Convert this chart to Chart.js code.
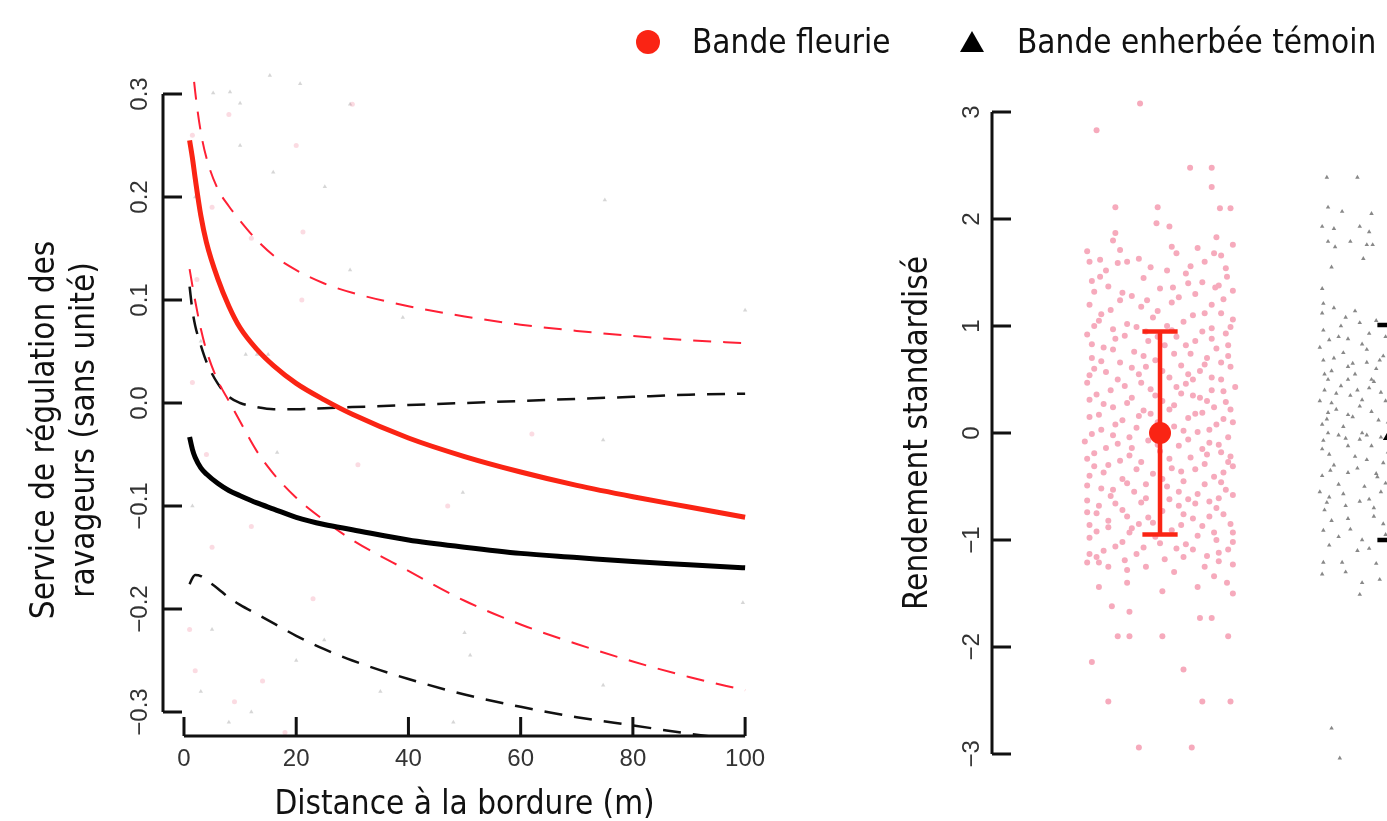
<!DOCTYPE html>
<html>
<head>
<meta charset="utf-8">
<script src="https://cdn.jsdelivr.net/npm/chart.js@4.4.1/dist/chart.umd.min.js"></script>
<style>
  html, body { margin: 0; padding: 0; background: #fff; overflow: hidden; width: 1387px; height: 821px; }
  #gauche { position: absolute; left: 0; top: 0; }
  #droite { position: absolute; left: 870px; top: 0; }
  .leg { position: absolute; top: 20px; font: 33px "Liberation Sans Narrow", "DejaVu Sans Condensed", sans-serif; color: #111; white-space: nowrap; line-height: 44px; }
  .rond { position: absolute; left: 636px; top: 30px; width: 24px; height: 24px; border-radius: 50%; background: #fa2414; }
  .tri { position: absolute; left: 960px; top: 31px; width: 0; height: 0; border-left: 12px solid transparent; border-right: 12px solid transparent; border-bottom: 21px solid #000; }
</style>
</head>
<body>
<canvas id="gauche" width="870" height="821"></canvas>
<canvas id="droite" width="680" height="821"></canvas>
<div class="rond"></div><div class="leg" style="left:692px">Bande fleurie</div>
<div class="tri"></div><div class="leg" style="left:1017px">Bande enherbée témoin</div>
<script>
// ---- panneau gauche : service de régulation selon la distance ----
const distances = [1, 1.5, 2, 3, 4, 6, 8, 10, 13, 16, 20, 25, 30, 40, 50, 60, 70, 80, 90, 100];
const fitFleurie   = [0.255, 0.238, 0.218, 0.182, 0.156, 0.121, 0.094, 0.073, 0.052, 0.036, 0.019, 0.003, -0.011, -0.034, -0.052, -0.067, -0.080, -0.091, -0.101, -0.111];
const upperFleurie = [0.370, 0.330, 0.302, 0.263, 0.238, 0.208, 0.191, 0.177, 0.158, 0.143, 0.129, 0.116, 0.107, 0.094, 0.084, 0.076, 0.070, 0.065, 0.061, 0.058];
const lowerFleurie = [0.130, 0.114, 0.099, 0.072, 0.051, 0.022, 0.002, -0.018, -0.047, -0.069, -0.092, -0.114, -0.133, -0.163, -0.192, -0.215, -0.234, -0.251, -0.266, -0.279];
const fitTemoin    = [-0.033, -0.045, -0.053, -0.063, -0.069, -0.078, -0.085, -0.090, -0.097, -0.103, -0.111, -0.118, -0.123, -0.133, -0.140, -0.146, -0.150, -0.154, -0.157, -0.160];
const upperTemoin  = [0.113, 0.090, 0.075, 0.056, 0.040, 0.019, 0.006, 0.000, -0.004, -0.006, -0.006, -0.005, -0.004, -0.002, 0.000, 0.002, 0.004, 0.006, 0.008, 0.009];
const lowerTemoin  = [-0.176, -0.170, -0.167, -0.168, -0.172, -0.180, -0.189, -0.196, -0.205, -0.214, -0.226, -0.239, -0.250, -0.268, -0.283, -0.295, -0.305, -0.313, -0.321, -0.328];

// observations (très pâles dans l'original)
const obsFleurieGauche = [[21.2, 0.166], [5, 0.19], [2.3, 0.12], [21, 0.10], [12, 0.16], [8, 0.28], [20, 0.25], [30, 0.29], [1.5, 0.26], [2, -0.26], [1, -0.22], [5, -0.14], [9, -0.29], [14, -0.27], [23, -0.19], [31, -0.06], [47, -0.10], [62, -0.03], [1.5, 0.02], [4, -0.05], [12, -0.12], [18, -0.32]];
const obsTemoinGauche = [[5.2, 0.301], [8.2, 0.302], [10, 0.291], [15.3, 0.318], [20.7, 0.31], [29.6, 0.29], [15.9, 0.224], [10, 0.25], [25.1, 0.21], [29.6, 0.129], [39, 0.083], [11, 0.047], [13, 0.047], [15, 0.047], [16.6, -0.048], [49.7, -0.087], [74.7, -0.036], [50, -0.223], [51, -0.245], [74.7, -0.274], [99.6, -0.194], [75, 0.197], [100, 0.09], [2, 0.2], [3, 0.06], [1.5, -0.1], [5, -0.22], [8, -0.31], [12, -0.30], [25, -0.23], [35, -0.28], [20, -0.25], [48, -0.31], [3, -0.28]];

const xTicksGauche = [0, 20, 40, 60, 80, 100];
const yTicksGauche = [-0.3, -0.2, -0.1, 0.0, 0.1, 0.2, 0.3];
const yLabelsGauche = ['\u22120.3', '\u22120.2', '\u22120.1', '0.0', '0.1', '0.2', '0.3'];

// ---- panneau droit : rendement standardisé ----
const groupes = ['Bande fleurie', 'Bande enherbée témoin'];
const moyennes = [0.0, 0.0];
const icBas = [-0.95, -1.0];
const icHaut = [0.95, 1.01];
// [décalage horizontal (jitter), rendement]
const rendFleurie = [
  [-0.27, 2.83], [-0.085, 3.08], [0.128, 2.48], [0.22, 2.48], [0.22, 2.30], [-0.19, 2.11], [-0.01, 2.11], [0.255, 2.10], [0.30, 2.10],
  [-0.015, 1.96], [0.04, 1.93], [-0.19, 1.87], [-0.17, 1.71], [0.07, 1.68], [0.16, 1.73], [0.23, 1.68], [0.26, 1.66], [-0.30, 1.60],
  [-0.255, 1.62], [-0.18, 1.59], [-0.14, 1.60], [-0.04, 1.55], [0.03, 1.52], [0.11, 1.49], [-0.255, 1.46], [0.285, 1.46], [0.18, 1.41],
  [0.055, 1.36], [0.235, 1.36], [-0.16, 1.31], [-0.055, 1.24],
  [-0.30, 1.20], [-0.21, 1.15], [-0.08, 1.18], [0.05, 1.22], [0.19, 1.12], [0.27, 1.25],
  [-0.26, 1.05], [-0.14, 1.02], [-0.03, 1.08], [0.10, 1.04], [0.22, 0.98], [0.31, 1.06],
  [-0.31, 0.92], [-0.19, 0.88], [-0.06, 0.95], [0.07, 0.90], [0.15, 0.86], [0.28, 0.93],
  [-0.24, 0.80], [-0.11, 0.76], [0.02, 0.82], [0.13, 0.74], [0.24, 0.79], [-0.29, 0.70],
  [-0.17, 0.66], [-0.02, 0.68], [0.09, 0.63], [0.20, 0.70], [0.30, 0.62], [-0.23, 0.57],
  [-0.09, 0.55], [0.04, 0.52], [0.17, 0.58], [0.26, 0.50], [-0.31, 0.47], [-0.15, 0.44],
  [-0.04, 0.41], [0.11, 0.46], [0.22, 0.40], [0.32, 0.43], [-0.27, 0.36], [-0.12, 0.33],
  [0.01, 0.30], [0.14, 0.35], [0.28, 0.29], [-0.20, 0.24], [-0.07, 0.21], [0.06, 0.26],
  [0.18, 0.19], [0.30, 0.22], [-0.30, 0.15], [-0.16, 0.12], [-0.01, 0.10], [0.12, 0.14],
  [0.24, 0.08], [-0.25, 0.03], [-0.10, 0.05], [0.03, -0.02], [0.16, 0.01], [0.29, -0.04],
  [-0.32, -0.08], [-0.18, -0.10], [-0.05, -0.07], [0.08, -0.12], [0.21, -0.09], [-0.28, -0.19],
  [-0.13, -0.21], [0.00, -0.17], [0.13, -0.23], [0.26, -0.18], [-0.22, -0.30], [-0.08, -0.27],
  [0.05, -0.33], [0.19, -0.29], [0.31, -0.31], [-0.30, -0.40], [-0.16, -0.43], [-0.03, -0.38],
  [0.10, -0.45], [0.23, -0.41], [-0.25, -0.52], [-0.11, -0.55], [0.03, -0.50], [0.16, -0.57],
  [0.28, -0.53], [-0.31, -0.63], [-0.19, -0.66], [-0.06, -0.61], [0.08, -0.68], [0.21, -0.64],
  [-0.27, -0.75], [-0.14, -0.78], [0.01, -0.73], [0.14, -0.80], [0.27, -0.76], [-0.22, -0.88],
  [-0.09, -0.85], [0.05, -0.91], [0.18, -0.87], [0.31, -0.93], [-0.30, -0.98], [-0.16, -1.02],
  [-0.02, -0.97], [0.11, -1.04], [0.24, -1.00], [-0.24, -1.10], [-0.10, -1.13], [0.07, -1.08],
  [0.20, -1.15], [0.29, -1.09],
  [-0.28, 1.32], [-0.12, 1.28], [0.00, 1.35], [0.15, 1.30], [0.25, 1.38],
  [-0.20, 0.97], [0.03, 1.00], [0.26, 1.12], [-0.05, 0.86], [0.18, 0.95],
  [-0.28, 0.60], [-0.06, 0.62], [0.12, 0.55], [0.29, 0.72], [-0.18, 0.50],
  [-0.24, 0.27], [0.09, 0.37], [0.20, 0.30], [-0.04, 0.18], [0.27, 0.13],
  [-0.20, -0.02], [0.10, 0.02], [-0.12, -0.14], [0.18, -0.15], [0.30, -0.22],
  [-0.28, -0.31], [0.09, -0.36], [-0.06, -0.48], [0.26, -0.46], [-0.21, -0.59],
  [0.12, -0.62], [-0.03, -0.84], [0.24, -0.70], [-0.30, -0.86], [0.16, -0.96],
  [-0.13, -0.93], [0.02, -1.18], [-0.27, -1.16], [0.25, -1.20], [-0.06, -1.25],
  [-0.29, 1.42], [-0.07, 1.45], [0.12, 1.40], [0.31, 1.33], [-0.22, 1.37],
  [-0.17, 1.24], [0.08, 1.27], [0.22, 1.20], [-0.01, 1.14], [-0.25, 1.11],
  [0.14, 1.10], [0.30, 0.99], [-0.10, 0.99], [-0.28, 1.00], [0.05, 0.96],
  [0.22, 0.88], [-0.15, 0.91], [-0.01, 0.90], [0.11, 0.82], [-0.29, 0.83],
  [0.29, 0.82], [-0.20, 0.78], [0.06, 0.74], [-0.07, 0.72], [0.19, 0.64],
  [-0.25, 0.67], [0.26, 0.66], [-0.12, 0.61], [0.01, 0.58], [0.14, 0.50],
  [-0.30, 0.54], [0.22, 0.52], [-0.08, 0.47], [0.07, 0.43], [-0.21, 0.40],
  [0.27, 0.39], [-0.02, 0.35], [0.17, 0.33], [-0.30, 0.31], [-0.14, 0.28],
  [0.04, 0.22], [0.23, 0.24], [-0.26, 0.17], [-0.09, 0.16], [0.15, 0.18],
  [0.31, 0.10], [-0.19, 0.08], [0.06, 0.06], [-0.03, 0.02], [0.21, 0.03],
  [-0.29, -0.01], [-0.13, -0.04], [0.12, -0.06], [0.25, -0.11], [-0.23, -0.14],
  [-0.01, -0.11], [0.20, -0.20], [-0.31, -0.24], [-0.17, -0.26], [0.04, -0.24],
  [0.29, -0.27], [-0.10, -0.34], [0.15, -0.34], [-0.24, -0.37], [0.01, -0.43],
  [0.27, -0.37], [-0.14, -0.47], [0.19, -0.48], [-0.31, -0.49], [0.08, -0.55],
  [-0.20, -0.53], [0.31, -0.58], [-0.08, -0.65], [0.15, -0.66], [-0.26, -0.68],
  [0.04, -0.62], [0.25, -0.61], [-0.16, -0.72], [0.10, -0.76], [-0.31, -0.74],
  [0.21, -0.78], [-0.05, -0.79], [-0.22, -0.82], [0.30, -0.85], [0.09, -0.86],
  [-0.12, -0.89], [0.23, -0.93], [-0.27, -0.92], [0.00, -1.03], [0.14, -1.09],
  [-0.19, -1.06], [0.31, -1.02], [-0.07, -1.07], [0.25, -1.12], [-0.30, -1.13],
  [0.10, -1.16], [-0.15, -1.19], [0.19, -1.25], [-0.22, -1.25], [0.06, -1.30],
  [-0.23, 1.52], [0.13, 1.56], [0.28, 1.54], [-0.09, 1.63], [0.19, 1.60],
  [-0.31, 1.70], [0.05, 1.74], [0.31, 1.76], [-0.20, 1.80], [0.24, 1.83],
  [-0.31, -1.21], [-0.26, -1.21], [-0.14, -1.28], [0.31, -1.23], [-0.26, -1.44], [-0.14, -1.40],
  [0.01, -1.48], [0.16, -1.44], [0.23, -1.34], [0.285, -1.40], [0.31, -1.50], [-0.205, -1.62],
  [-0.13, -1.67], [0.17, -1.73], [0.22, -1.73], [-0.18, -1.90], [-0.13, -1.90], [0.01, -1.90],
  [0.29, -1.90], [-0.29, -2.14], [0.10, -2.21], [-0.22, -2.51], [0.18, -2.51], [0.30, -2.51],
  [-0.09, -2.94], [0.135, -2.94]
];
const rendTemoin = [
  [-0.29, 2.39], [-0.16, 2.39], [-0.285, 2.11], [-0.225, 2.07], [-0.10, 2.05], [-0.31, 1.93], [-0.26, 1.91], [-0.15, 1.93],
  [-0.11, 1.88], [-0.285, 1.79], [-0.255, 1.74], [-0.19, 1.79], [-0.12, 1.76], [-0.095, 1.76], [-0.27, 1.55], [-0.135, 1.63],
  [-0.31, 1.35], [-0.305, 1.21], [-0.26, 1.17], [-0.21, 1.08], [-0.15, 1.03], [-0.305, 0.96], [-0.24, 0.90], [-0.20, 0.88],
  [-0.11, 0.93], [-0.305, 0.68], [-0.18, 0.65], [-0.065, 0.68], [-0.285, 0.50], [-0.20, 0.50], [-0.10, 0.50], [-0.25, 0.37],
  [-0.14, 0.31], [-0.285, 0.19], [-0.20, 0.17], [-0.285, 0.0], [-0.22, 0.06], [-0.12, -0.02], [-0.305, -0.07], [-0.14, 0.0],
  [-0.275, -0.35], [-0.20, -0.37], [-0.075, -0.41], [-0.29, -0.65], [-0.21, -0.68], [-0.11, -0.62], [-0.305, -0.91],
  [-0.24, -0.97], [-0.14, -1.0], [-0.305, -1.21], [-0.225, -1.21], [-0.14, -1.40], [-0.065, -1.37], [-0.15, -1.51],
  [-0.27, -2.76], [-0.235, -3.04],
  [-0.32, 0.80], [-0.22, 0.75], [-0.12, 0.78], [-0.05, 0.72], [-0.27, 0.58], [-0.17, 0.55], [-0.08, 0.60], [-0.30, 0.40],
  [-0.19, 0.35], [-0.11, 0.42], [-0.04, 0.30], [-0.25, 0.22], [-0.15, 0.25], [-0.07, 0.12], [-0.31, 0.08], [-0.21, -0.05],
  [-0.10, -0.12], [-0.28, -0.20], [-0.17, -0.22], [-0.05, -0.28], [-0.24, -0.48], [-0.13, -0.50], [-0.32, -0.55], [-0.06, -0.55],
  [-0.20, -0.80], [-0.09, -0.78], [-0.27, -0.82], [-0.16, -1.10], [-0.04, -0.95],
  [-0.31, 1.12], [-0.23, 1.00], [-0.17, 1.14], [-0.08, 1.05], [-0.28, 0.87], [-0.14, 0.83], [-0.04, 0.90], [-0.26, 0.70],
  [-0.20, 0.62], [-0.12, 0.66], [-0.30, 0.55], [-0.09, 0.48], [-0.23, 0.44], [-0.16, 0.40], [-0.32, 0.30], [-0.06, 0.38],
  [-0.27, 0.28], [-0.18, 0.15], [-0.10, 0.20], [-0.03, 0.10], [-0.29, 0.13], [-0.24, -0.02], [-0.15, -0.06], [-0.06, -0.04],
  [-0.31, -0.15], [-0.20, -0.12], [-0.12, -0.25], [-0.03, -0.18], [-0.26, -0.30], [-0.16, -0.33], [-0.08, -0.38], [-0.31, -0.40],
  [-0.22, -0.57], [-0.04, -0.47], [-0.28, -0.60], [-0.15, -0.64], [-0.09, -0.70], [-0.30, -0.72], [-0.19, -0.90], [-0.05, -0.85],
  [-0.28, -1.05], [-0.11, -1.08], [-0.21, -1.30], [-0.08, -1.22], [-0.31, -1.32]
];
const yTicksDroite = [-3, -2, -1, 0, 1, 2, 3];
const yLabelsDroite = ['\u22123', '\u22122', '\u22121', '0', '1', '2', '3'];

const ROUGE = '#fa2414';
const TITRE_FONT = '33px "Liberation Sans Narrow", "DejaVu Sans Condensed", sans-serif';
const TICK_FONT = '24px "Liberation Sans", Arial, sans-serif';

// axes à la manière de R : ligne limitée aux graduations, graduations vers l'intérieur
function axesR(cfg) {
  return {
    id: 'axesR',
    afterDraw(chart) {
      const ctx = chart.ctx, xs = chart.scales.x, ys = chart.scales.y, a = chart.chartArea;
      ctx.save();
      ctx.strokeStyle = '#111';
      ctx.lineWidth = 3;
      ctx.beginPath();
      const yT = cfg.yTicks;
      ctx.moveTo(a.left, ys.getPixelForValue(yT[0]));
      ctx.lineTo(a.left, ys.getPixelForValue(yT[yT.length - 1]));
      yT.forEach(v => {
        const p = ys.getPixelForValue(v);
        ctx.moveTo(a.left, p);
        ctx.lineTo(a.left + 19, p);
      });
      if (cfg.xTicks) {
        const xT = cfg.xTicks;
        ctx.moveTo(xs.getPixelForValue(xT[0]), a.bottom);
        ctx.lineTo(xs.getPixelForValue(xT[xT.length - 1]), a.bottom);
        xT.forEach(v => {
          const p = xs.getPixelForValue(v);
          ctx.moveTo(p, a.bottom);
          ctx.lineTo(p, a.bottom - 19);
        });
      }
      ctx.stroke();

      ctx.fillStyle = '#333';
      ctx.font = TICK_FONT;
      ctx.textAlign = 'center';
      ctx.textBaseline = 'middle';
      yT.forEach((v, i) => {
        ctx.save();
        ctx.translate(a.left - cfg.yLabelGap, ys.getPixelForValue(v));
        ctx.rotate(-Math.PI / 2);
        ctx.fillText(cfg.yLabels[i], 0, 0);
        ctx.restore();
      });
      if (cfg.xTicks) {
        cfg.xTicks.forEach(v => ctx.fillText(String(v), xs.getPixelForValue(v), a.bottom + 23));
      }

      ctx.fillStyle = '#111';
      ctx.font = TITRE_FONT;
      cfg.yTitle.forEach((t, i) => {
        ctx.save();
        ctx.translate(cfg.yTitleX[i], cfg.yTitleY);
        ctx.rotate(-Math.PI / 2);
        ctx.fillText(t, 0, 0);
        ctx.restore();
      });
      if (cfg.xTitle) {
        ctx.fillText(cfg.xTitle, (xs.getPixelForValue(0) + xs.getPixelForValue(100)) / 2, cfg.xTitleY);
      }
      ctx.restore();
    }
  };
}

const courbe = (ys) => distances.map((d, i) => ({ x: d, y: ys[i] }));
const nuage = (pts) => pts.map(p => ({ x: p[0], y: p[1] }));

new Chart(document.getElementById('gauche'), {
  type: 'scatter',
  data: {
    datasets: [
      { data: courbe(fitFleurie), showLine: true, borderColor: ROUGE, borderWidth: 5, pointRadius: 0, cubicInterpolationMode: 'monotone', order: 1 },
      { data: courbe(fitTemoin), showLine: true, borderColor: '#000', borderWidth: 5, pointRadius: 0, cubicInterpolationMode: 'monotone', order: 2 },
      { data: courbe(upperFleurie), showLine: true, borderColor: '#ff2035', borderWidth: 2, borderDash: [18, 12], pointRadius: 0, cubicInterpolationMode: 'monotone', order: 3 },
      { data: courbe(lowerFleurie), showLine: true, borderColor: '#ff2035', borderWidth: 2, borderDash: [18, 12], pointRadius: 0, cubicInterpolationMode: 'monotone', order: 3 },
      { data: courbe(upperTemoin), showLine: true, borderColor: '#111', borderWidth: 2.5, borderDash: [18, 12], pointRadius: 0, cubicInterpolationMode: 'monotone', order: 4 },
      { data: courbe(lowerTemoin), showLine: true, borderColor: '#111', borderWidth: 2.5, borderDash: [18, 12], pointRadius: 0, cubicInterpolationMode: 'monotone', order: 4 },
      { data: nuage(obsFleurieGauche), pointRadius: 2.5, pointBackgroundColor: 'rgba(240,110,140,0.25)', pointBorderWidth: 0, order: 9 },
      { data: nuage(obsTemoinGauche), pointStyle: 'triangle', pointRadius: 2.5, pointBackgroundColor: 'rgba(90,90,90,0.25)', pointBorderWidth: 0, order: 9 }
    ]
  },
  options: {
    responsive: false,
    animation: false,
    layout: { padding: { left: 163, right: 103, top: 71, bottom: 85 } },
    plugins: { legend: { display: false }, tooltip: { enabled: false } },
    scales: {
      x: { type: 'linear', min: -3.74, max: 103.9, display: false },
      y: { min: -0.3233, max: 0.3223, display: false }
    }
  },
  plugins: [axesR({
    yTicks: yTicksGauche, yLabels: yLabelsGauche, yLabelGap: 23,
    xTicks: xTicksGauche,
    yTitle: ['Service de régulation des', 'ravageurs (sans unité)'], yTitleX: [45, 85], yTitleY: 430,
    xTitle: 'Distance à la bordure (m)', xTitleY: 805
  })]
});

// barres d'erreur et moyennes du panneau droit
const barres = [];
groupes.forEach((g, i) => {
  const c = i === 0 ? ROUGE : '#000';
  const x = i + 1;
  barres.push({ data: [{ x, y: icBas[i] }, { x, y: icHaut[i] }], showLine: true, borderColor: c, borderWidth: 4.5, pointRadius: 0, order: 2 });
  [icBas[i], icHaut[i]].forEach(v => {
    barres.push({ data: [{ x: x - 0.075, y: v }, { x: x + 0.075, y: v }], showLine: true, borderColor: c, borderWidth: 4.5, pointRadius: 0, order: 2 });
  });
  barres.push({ label: g, data: [{ x, y: moyennes[i] }], pointStyle: i === 0 ? 'circle' : 'triangle', pointRadius: i === 0 ? 11 : 14, pointBackgroundColor: c, pointBorderWidth: 0, order: 1 });
});

new Chart(document.getElementById('droite'), {
  type: 'scatter',
  data: {
    datasets: [
      ...barres,
      { data: rendFleurie.map(p => ({ x: 1 + p[0], y: p[1] })), pointRadius: 3, pointBackgroundColor: 'rgb(246,170,188)', pointBorderWidth: 0, order: 8 },
      { data: rendTemoin.map(p => ({ x: 2 + p[0], y: p[1] })), pointStyle: 'triangle', pointRadius: 2.6, pointBackgroundColor: '#888', pointBorderWidth: 0, order: 8 }
    ]
  },
  options: {
    responsive: false,
    animation: false,
    layout: { padding: { left: 122, right: 14, top: 80, bottom: 35 } },
    plugins: { legend: { display: false }, tooltip: { enabled: false } },
    scales: {
      x: { type: 'linear', min: 0.285, max: 2.6, display: false },
      y: { min: -3.3, max: 3.3, display: false }
    }
  },
  plugins: [axesR({
    yTicks: yTicksDroite, yLabels: yLabelsDroite, yLabelGap: 20,
    yTitle: ['Rendement standardisé'], yTitleX: [48], yTitleY: 433
  })]
});
</script>
</body>
</html>
